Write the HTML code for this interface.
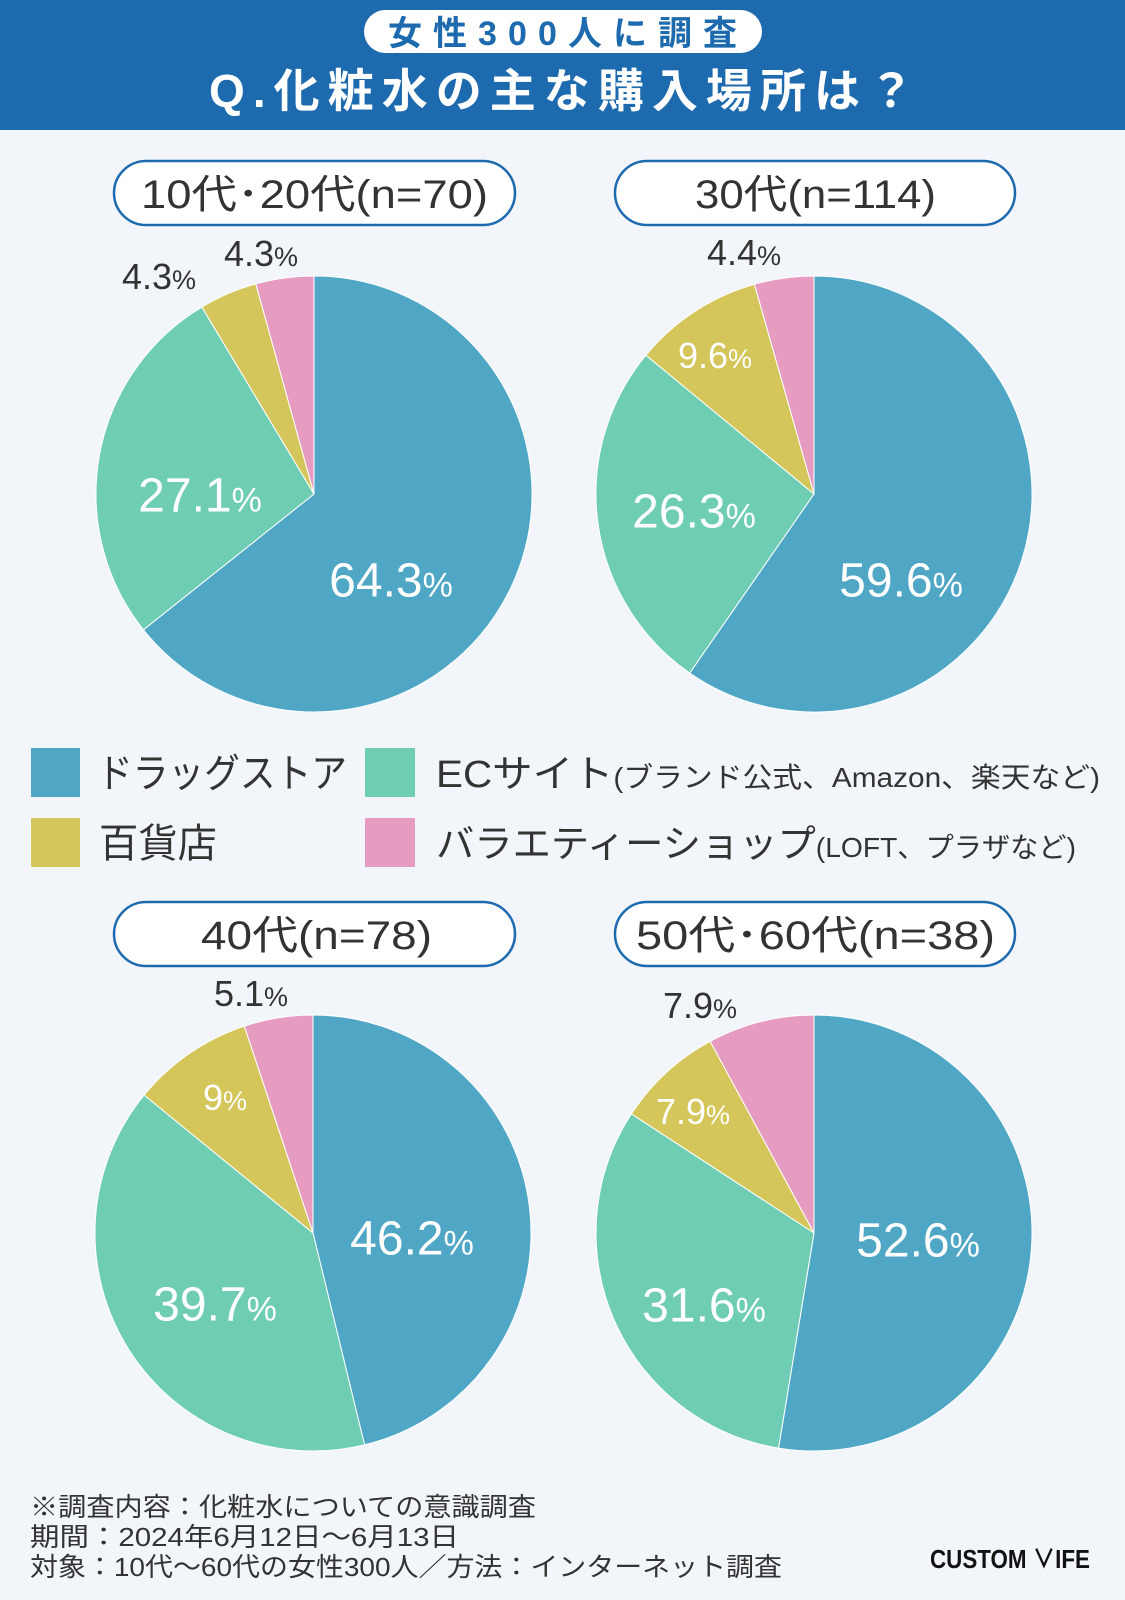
<!DOCTYPE html>
<html><head><meta charset="utf-8"><style>
html,body{margin:0;padding:0;background:#f2f6fa;}
svg{display:block;}
text{font-family:"Liberation Sans","Noto Sans CJK JP",sans-serif;}
</style></head><body>
<svg id="s" width="1125" height="1600" viewBox="0 0 1125 1600" xmlns="http://www.w3.org/2000/svg">
<rect width="1125" height="1600" fill="#f2f6fa"/>
<rect width="1125" height="130" fill="#1e6aae"/>
<rect x="364" y="10" width="398" height="43" rx="21.5" fill="#fff"/>
<text x="388" y="45" font-size="34" fill="#1e6aae" textLength="349" lengthAdjust="spacing" font-weight="bold">女性300人に調査</text>
<text x="209" y="107" font-size="46" fill="#fff" textLength="705" lengthAdjust="spacing" font-weight="bold">Q.化粧水の主な購入場所は？</text>

<g fill="#fff" stroke="#1e6aae" stroke-width="2.5">
<rect x="114" y="161" width="401" height="64" rx="32"/>
<rect x="615" y="161" width="400" height="64" rx="32"/>
<rect x="114" y="902" width="401" height="64" rx="32"/>
<rect x="615" y="902" width="400" height="64" rx="32"/>
</g>
<g font-size="40" fill="#333" lengthAdjust="spacingAndGlyphs">
<text x="141" y="208" textLength="347" lengthAdjust="spacingAndGlyphs">10代･20代(n=70)</text>
<text x="695" y="208" textLength="241" lengthAdjust="spacingAndGlyphs">30代(n=114)</text>
<text x="201" y="949" textLength="231" lengthAdjust="spacingAndGlyphs">40代(n=78)</text>
<text x="636" y="949" textLength="359" lengthAdjust="spacingAndGlyphs">50代･60代(n=38)</text>
</g>
<g id="pies"></g>

<g>
<rect x="31" y="748" width="49" height="49" fill="#4fa7c5"/>
<rect x="365" y="748" width="50" height="49" fill="#6fcdb4"/>
<rect x="31" y="818" width="49" height="49" fill="#d4c65a"/>
<rect x="365" y="818" width="50" height="49" fill="#e69cc0"/>
</g>
<g fill="#333">
<text x="97" y="787" font-size="40" textLength="250" lengthAdjust="spacingAndGlyphs">ドラッグストア</text>
<text x="436" y="787" font-size="38" textLength="664" lengthAdjust="spacingAndGlyphs">ECサイト<tspan font-size="28">(ブランド公式、Amazon、楽天など)</tspan></text>
<text x="99" y="857" font-size="40" textLength="118" lengthAdjust="spacingAndGlyphs">百貨店</text>
<text x="436" y="857" font-size="38" textLength="640" lengthAdjust="spacingAndGlyphs">バラエティーショップ<tspan font-size="28">(LOFT、プラザなど)</tspan></text>
</g>

<g font-size="26" fill="#333">
<text x="30" y="1516" textLength="506" lengthAdjust="spacingAndGlyphs">※調査内容：化粧水についての意識調査</text>
<text x="30" y="1546" textLength="429" lengthAdjust="spacingAndGlyphs">期間：2024年6月12日〜6月13日</text>
<text x="30" y="1576" textLength="752" lengthAdjust="spacingAndGlyphs">対象：10代〜60代の女性300人／方法：インターネット調査</text>
</g>
<text x="930" y="1568" font-size="26" font-weight="bold" fill="#111" textLength="160" lengthAdjust="spacingAndGlyphs">CUSTOM ∨IFE</text>
</svg>
<script>
var pies=[
 {cx:314,cy:494,v:[64.3,27.1,4.3,4.3]},
 {cx:814,cy:494,v:[59.6,26.3,9.6,4.4]},
 {cx:313,cy:1233,v:[46.2,39.7,9,5.1]},
 {cx:814,cy:1233,v:[52.6,31.6,7.9,7.9]}
];
var cols=["#4fa7c5","#6fcdb4","#d4c65a","#e69cc0"];
var r=218,g=document.getElementById("pies"),h="";
pies.forEach(function(p){
 var tot=p.v.reduce(function(a,b){return a+b},0),a=0;
 p.v.forEach(function(v,i){
  var a0=a/tot*2*Math.PI,a1=(a+v)/tot*2*Math.PI;a+=v;
  var x0=p.cx+r*Math.sin(a0),y0=p.cy-r*Math.cos(a0),x1=p.cx+r*Math.sin(a1),y1=p.cy-r*Math.cos(a1);
  h+='<path d="M'+p.cx+','+p.cy+' L'+x0+','+y0+' A'+r+','+r+' 0 '+((a1-a0)>Math.PI?1:0)+' 1 '+x1+','+y1+' Z" fill="'+cols[i]+'" stroke="#fff" stroke-width="1"/>';
 });
});
var L=[
 [391,579,"64.3",1],[200,494,"27.1",1],[159,276,"4.3",0],[261,253,"4.3",0],
 [901,579,"59.6",1],[694,510,"26.3",1],[715,355,"9.6",2],[744,252,"4.4",0],
 [412,1237,"46.2",1],[215,1303,"39.7",1],[225,1097,"9",2],[251,993,"5.1",0],
 [918,1239,"52.6",1],[704,1304,"31.6",1],[693,1111,"7.9",2],[700,1005,"7.9",0]
];
L.forEach(function(l){
 var big=l[3]==1,fs=big?48:36,ps=big?34:27,col=l[3]==0?"#333":"#fff";
 h+='<text x="'+l[0]+'" y="'+(l[1]+fs*0.36)+'" font-size="'+fs+'" fill="'+col+'" text-anchor="middle">'+l[2]+'<tspan font-size="'+ps+'">%</tspan></text>';
});
g.innerHTML=h;
</script>
</body></html>
